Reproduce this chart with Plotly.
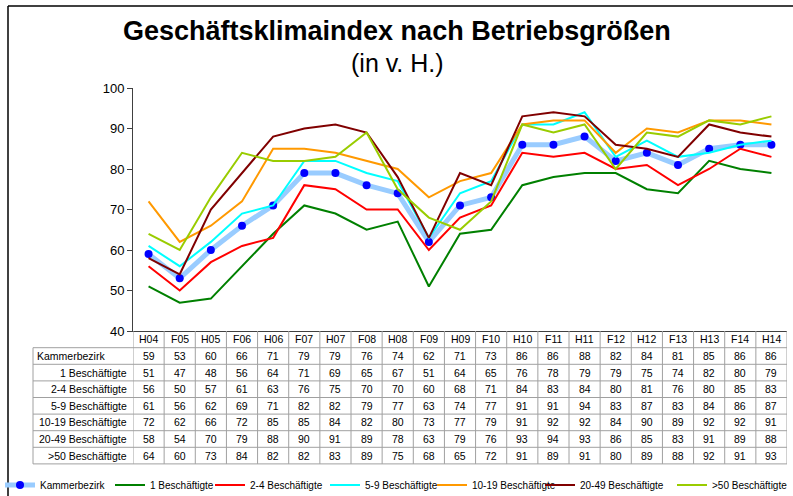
import plotly.graph_objects as go

periods = ["H04","F05","H05","F06","H06","F07","H07","F08","H08","F09","H09",
           "F10","H10","F11","H11","F12","H12","F13","H13","F14","H14"]

kammerbezirk = [59,53,60,66,71,79,79,76,74,62,71,73,86,86,88,82,84,81,85,86,86]
b1     = [51,47,48,56,64,71,69,65,67,51,64,65,76,78,79,79,75,74,82,80,79]
b2_4   = [56,50,57,61,63,76,75,70,70,60,68,71,84,83,84,80,81,76,80,85,83]
b5_9   = [61,56,62,69,71,82,82,79,77,63,74,77,91,91,94,83,87,83,84,86,87]
b10_19 = [72,62,66,72,85,85,84,82,80,73,77,79,91,92,92,84,90,89,92,92,91]
b20_49 = [58,54,70,79,88,90,91,89,78,63,79,76,93,94,93,86,85,83,91,89,88]
b50    = [64,60,73,84,82,82,83,89,75,68,65,72,91,89,91,80,89,88,92,91,93]

series_names = ["Kammerbezirk","1 Beschäftigte","2-4 Beschäftigte","5-9 Beschäftigte",
                "10-19 Beschäftigte","20-49 Beschäftigte",">50 Beschäftigte"]
series_values = [kammerbezirk, b1, b2_4, b5_9, b10_19, b20_49, b50]
series_colors = ["#99CCFF","#008000","#FF0000","#00FFFF","#FF9900","#800000","#99CC00"]

title_text = "Geschäftsklimaindex nach Betriebsgrößen"
subtitle_text = "(in v. H.)"

FONT = "Arial, Liberation Sans, sans-serif"
W, H = 793, 496
L, R, T, B = 133, 787, 88, 331  # plot area in pixels
TABLE_FS = 10.5

def pxx(p):
    return (p - L) / (R - L)

def pxy(p):
    return (B - p) / (B - T)

legend_text_x = [40, 150, 250, 365, 472, 580, 712]

fig = go.Figure()

for i, (name, vals, col) in enumerate(zip(series_names, series_values, series_colors)):
    lg = "legend" if i == 0 else f"legend{i + 1}"
    if i == 0:
        fig.add_trace(go.Scatter(x=periods, y=vals, name=name, mode="lines+markers",
                                 line=dict(color=col, width=5),
                                 marker=dict(color="#0000FF", size=8), legend=lg))
    else:
        fig.add_trace(go.Scatter(x=periods, y=vals, name=name, mode="lines",
                                 line=dict(color=col, width=2), legend=lg))

shapes = []
annotations = []
grid_col = "#A0A0A0"

header_top = 331
header_bot = 347.7
row_h = 16.6
n_rows = len(series_names)
table_bot = header_bot + n_rows * row_h
label_left = 33

for k in range(len(periods) + 1):
    shapes.append(dict(type="line", xref="x", yref="paper", x0=k - 0.5, x1=k - 0.5,
                       y0=pxy(header_top), y1=pxy(table_bot),
                       line=dict(color=grid_col, width=1)))
shapes.append(dict(type="line", xref="paper", yref="paper", x0=pxx(label_left), x1=pxx(label_left),
                   y0=pxy(header_bot), y1=pxy(table_bot), line=dict(color=grid_col, width=1)))
for r in range(n_rows + 1):
    yy = pxy(header_bot + r * row_h)
    shapes.append(dict(type="line", xref="paper", yref="paper", x0=pxx(label_left), x1=1,
                       y0=yy, y1=yy, line=dict(color=grid_col, width=1)))

shapes.append(dict(type="line", xref="paper", yref="paper", x0=pxx(8), x1=pxx(8),
                   y0=pxy(6), y1=pxy(H + 5), line=dict(color="#000000", width=1.5)))
shapes.append(dict(type="line", xref="paper", yref="paper", x0=pxx(8), x1=pxx(W + 5),
                   y0=pxy(6), y1=pxy(6), line=dict(color="#000000", width=1.5)))

for p in periods:
    annotations.append(dict(x=p, xref="x", y=pxy((header_top + header_bot) / 2), yref="paper",
                            text=p, showarrow=False, font=dict(family=FONT, size=TABLE_FS, color="#000"),
                            xanchor="center", yanchor="middle"))
for r, (name, vals) in enumerate(zip(series_names, series_values)):
    yc = pxy(header_bot + (r + 0.5) * row_h)
    if r == 0:
        annotations.append(dict(x=pxx(35), xref="paper", y=yc, yref="paper", text=name,
                                showarrow=False, xanchor="left", yanchor="middle",
                                font=dict(family=FONT, size=TABLE_FS, color="#000")))
    else:
        annotations.append(dict(x=pxx(129), xref="paper", y=yc, yref="paper", text=name,
                                showarrow=False, xanchor="right", yanchor="middle",
                                font=dict(family=FONT, size=TABLE_FS, color="#000")))
    for p, v in zip(periods, vals):
        annotations.append(dict(x=p, xref="x", y=yc, yref="paper", text=str(v),
                                showarrow=False, xanchor="center", yanchor="middle",
                                font=dict(family=FONT, size=TABLE_FS, color="#000")))

annotations.append(dict(x=pxx(397), xref="paper", y=pxy(31), yref="paper", text="<b>" + title_text + "</b>",
                        showarrow=False, xanchor="center", yanchor="middle",
                        font=dict(family=FONT, size=27, color="#000")))
annotations.append(dict(x=pxx(397), xref="paper", y=pxy(63), yref="paper", text=subtitle_text,
                        showarrow=False, xanchor="center", yanchor="middle",
                        font=dict(family=FONT, size=25, color="#000")))

legend_common = dict(orientation="h", yanchor="middle", xanchor="left",
                     font=dict(family=FONT, size=10, color="#000"), itemwidth=30,
                     bgcolor="rgba(0,0,0,0)", borderwidth=0)
layout_legends = {}
for i, tx in enumerate(legend_text_x):
    key = "legend" if i == 0 else f"legend{i + 1}"
    layout_legends[key] = dict(legend_common, x=pxx(tx - 40), y=pxy(485))

fig.update_layout(
    width=W, height=H,
    margin=dict(l=L, r=W - R, t=T, b=H - B, autoexpand=False),
    paper_bgcolor="white", plot_bgcolor="white",
    showlegend=True,
    shapes=shapes, annotations=annotations,
    xaxis=dict(type="category", range=[-0.5, len(periods) - 0.5], showticklabels=False,
               showgrid=False, zeroline=False, showline=True, linecolor="#404040", linewidth=1,
               ticks=""),
    yaxis=dict(range=[40, 100], dtick=10, tick0=40, showgrid=False, zeroline=False,
               showline=True, linecolor="#404040", linewidth=1, ticks="outside", ticklen=5,
               tickcolor="#404040", tickfont=dict(family=FONT, size=13, color="#000")),
    font=dict(family=FONT),
    **layout_legends,
)

fig.write_html("out.html", config={"displayModeBar": False},
               post_script="document.body.style.margin='0';document.body.style.overflow='hidden';")
